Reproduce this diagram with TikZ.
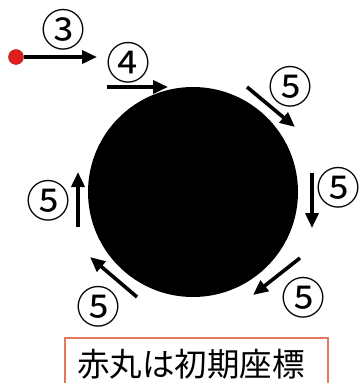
\documentclass[tikz,border=0pt]{standalone}
\usepackage{fontspec}
\setmainfont{Noto Sans CJK JP}
\usetikzlibrary{arrows.meta}
\definecolor{boxline}{RGB}{228,120,95}
\definecolor{dotred}{RGB}{225,30,30}
\tikzset{
  mvarrow/.style={line width=3.6pt,-{Triangle[length=15pt,width=13pt]}},
  numlabel/.style={inner sep=0pt,font=\fontsize{44pt}{46pt}\selectfont},
}
\begin{document}
\begin{tikzpicture}[x=1pt,y=-1pt]
\useasboundingbox (0,0) rectangle (361,383);
\clip (0,0) rectangle (361,383);
% big black circle
\node[circle,fill=black,minimum size=210pt,inner sep=0pt] (ball) at (193,192) {};
% red initial dot and arrow 3
\node[circle,fill=dotred,draw=dotred!70!black,line width=0.4pt,minimum size=15pt,inner sep=0pt] (dot) at (16,57) {};
\coordinate (a3e) at (97,57);
\draw[mvarrow] (dot.east) -- (a3e);
\node[numlabel] (n3) at (63,30) {③};
% arrow 4
\coordinate (a4s) at (107,87);
\coordinate (a4e) at (168,87);
\draw[mvarrow] (a4s) -- (a4e);
\node[numlabel] (n4) at (128,63) {④};
% arrows 5
\coordinate (a5as) at (247,87);
\coordinate (a5ae) at (295,127);
\draw[mvarrow] (a5as) -- (a5ae);
\node[numlabel] (n5a) at (290,87) {⑤};
\coordinate (a5bs) at (312,173);
\coordinate (a5be) at (312,228);
\draw[mvarrow] (a5bs) -- (a5be);
\node[numlabel] (n5b) at (338,188) {⑤};
\coordinate (a5cs) at (300,258);
\coordinate (a5ce) at (253,295);
\draw[mvarrow] (a5cs) -- (a5ce);
\node[numlabel] (n5c) at (303,298) {⑤};
\coordinate (a5ds) at (137,297);
\coordinate (a5de) at (90,257);
\draw[mvarrow] (a5ds) -- (a5de);
\node[numlabel] (n5d) at (98,307) {⑤};
\coordinate (a5es) at (78,227);
\coordinate (a5ee) at (78,172);
\draw[mvarrow] (a5es) -- (a5ee);
\node[numlabel] (n5e) at (48,201) {⑤};
% caption box
\draw[boxline,line width=1.5pt] (65,400) -- (65,338) -- (328,338) -- (328,400);
\node[inner sep=0pt,font=\fontsize{32.5pt}{34pt}\selectfont] (cap) at (191,364) {赤丸は初期座標};
\end{tikzpicture}
\end{document}
